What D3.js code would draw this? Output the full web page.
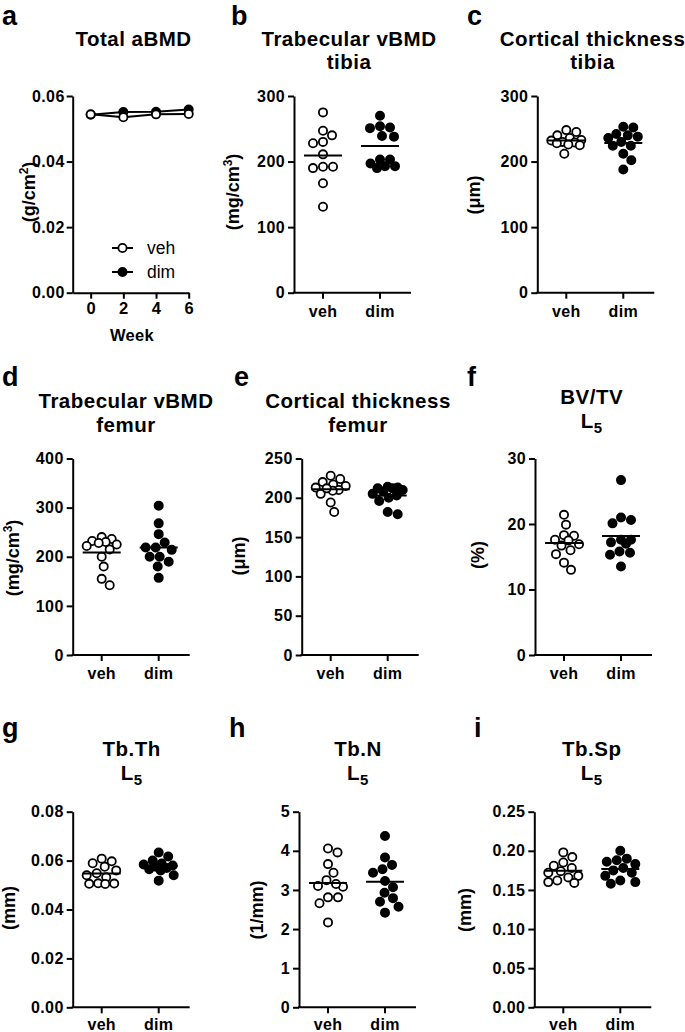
<!DOCTYPE html>
<html><head><meta charset="utf-8">
<script src="https://cdn.jsdelivr.net/npm/d3@7"></script>
<style>
html,body{margin:0;padding:0;background:#fff;}
svg{display:block;font-family:"Liberation Sans",Arial,sans-serif;}
</style></head>
<body>
<svg id="fig" width="685" height="1032"></svg>
<script>
// ---------- data ----------
const weeks = [0, 2, 4, 6];
const aVeh = [0.0544, 0.0535, 0.0544, 0.0545];
const aDim = [0.0543, 0.0551, 0.0552, 0.0559];
const groups = ["veh", "dim"];

const bVeh = [275, 247, 240, 230, 228, 211, 190, 192, 192, 167, 131];
const bDim = [270, 252, 254, 251, 238, 239, 203, 203, 197, 190, 193, 193];
const cVeh = [248, 245, 240, 236, 233, 232, 230, 229, 228, 226, 225, 212];
const cDim = [252, 253, 236, 238, 240, 242, 224, 224, 212, 202, 188, 230];
const dVeh = [240, 236, 232, 230, 228, 225, 222, 215, 200, 180, 155, 142];
const dDim = [304, 268, 246, 229, 219, 219, 214, 200, 200, 190, 180, 157];
const eVeh = [228, 224, 220, 217, 215, 213, 210, 209, 205, 194, 182, 212];
const eDim = [214, 213, 212, 212, 210, 208, 205, 203, 200, 196, 182, 179];
const fVeh = [21.4, 19.9, 18.3, 18.2, 17.5, 17.6, 16.9, 16.7, 16.0, 15.4, 14.1, 13.0];
const fDim = [26.7, 21.0, 20.1, 20.6, 17.6, 17.6, 17.2, 15.8, 15.6, 15.3, 13.5, 17.0];
const gVeh = [0.0608, 0.0597, 0.0589, 0.0575, 0.0560, 0.0548, 0.0540, 0.0532, 0.0507, 0.0506, 0.0505, 0.0504];
const gDim = [0.0633, 0.0617, 0.0600, 0.0588, 0.0584, 0.0580, 0.0575, 0.0570, 0.0565, 0.0560, 0.0540, 0.0518];
const hVeh = [4.06, 3.96, 3.66, 3.44, 3.25, 3.10, 3.08, 3.15, 2.81, 2.81, 2.66, 2.17];
const hDim = [4.38, 3.83, 3.44, 3.53, 3.64, 3.23, 3.07, 2.93, 2.79, 2.70, 2.57, 2.42];
const iVeh = [0.198, 0.192, 0.185, 0.181, 0.178, 0.174, 0.172, 0.168, 0.166, 0.162, 0.160, 0.159];
const iDim = [0.200, 0.190, 0.188, 0.186, 0.183, 0.178, 0.175, 0.172, 0.168, 0.162, 0.160, 0.158];

const ticksA = [0, 0.02, 0.04, 0.06];
const ticks300 = [0, 100, 200, 300];
const ticks400 = [0, 100, 200, 300, 400];
const ticks250 = [0, 50, 100, 150, 200, 250];
const ticks30 = [0, 10, 20, 30];
const ticks008 = [0, 0.02, 0.04, 0.06, 0.08];
const ticks5 = [0, 1, 2, 3, 4, 5];
const ticks025 = [0, 0.05, 0.10, 0.15, 0.20, 0.25];

// ---------- layout ----------
const svg = d3.select("#fig");
const FONT = "'Liberation Sans', Arial, sans-serif";
const R = 4.1, SW = 1.8, AXW = 2;
const TICKF = 16, CATF = 16, TITLEF = 20.5, YLABF = 18;
const rows = [{top: 96, bottom: 292.7, letterY: 25, t1: 45.5, xlab: 316.5},
              {top: 458.5, bottom: 655, letterY: 386, t1: 408, xlab: 679},
              {top: 811.7, bottom: 1007.3, letterY: 737, t1: 756, xlab: 1030}];

function styleAxis(g) {
  g.select(".domain").attr("stroke", "#000").attr("stroke-width", AXW);
  g.selectAll(".tick line").attr("stroke", "#000").attr("stroke-width", AXW);
  g.selectAll(".tick text").attr("fill", "#000").attr("font-family", FONT)
    .attr("font-weight", "bold").attr("font-size", TICKF).attr("letter-spacing", 0.4);
}

function addTitle(lines, cx, y, sub) {
  lines.forEach((ln, k) => {
    const t = svg.append("text").attr("x", cx).attr("y", y + k * 23.5)
      .attr("text-anchor", "middle").attr("font-weight", "bold")
      .attr("font-size", TITLEF).attr("letter-spacing", 0.5).attr("font-family", FONT);
    if (sub && k === lines.length - 1) {
      t.append("tspan").text(ln);
      t.append("tspan").text(sub).attr("font-size", 15).attr("dy", 5);
    } else t.text(ln);
  });
}

function addLetter(l, x, y) {
  svg.append("text").attr("x", x).attr("y", y).text(l)
    .attr("font-weight", "bold").attr("font-size", 27).attr("font-family", FONT);
}

function addYLabel(parts, x, y) {
  const t = svg.append("text").attr("transform", `translate(${x},${y}) rotate(-90)`)
    .attr("text-anchor", "middle").attr("dy", "0.35em")
    .attr("font-weight", "bold").attr("font-size", YLABF).attr("font-family", FONT);
  parts.forEach(p => {
    const s = t.append("tspan").text(p.t);
    if (p.sup) s.attr("font-size", 12).attr("dy", -7);
    if (p.after) s.attr("dy", 7);
  });
}

function swarm(values, y, maxOff) {
  const order = d3.range(values.length).sort((i, j) => values[j] - values[i]);
  const placed = [], off = new Array(values.length);
  const minD = 2 * R + SW;
  for (const i of order) {
    const yi = y(values[i]);
    let best = 0, bestScore = -Infinity;
    const cands = [0];
    for (let k = 0.5; k <= maxOff; k += 0.5) cands.push(k, -k);
    for (const c of cands) {
      let md = Infinity;
      for (const p of placed) md = Math.min(md, Math.hypot(c - p.x, yi - p.y));
      if (md >= minD) { best = c; bestScore = Infinity; break; }
      if (md > bestScore) { bestScore = md; best = c; }
    }
    placed.push({x: best, y: yi});
    off[i] = best;
  }
  return off;
}

function scatterPanel(p) {
  const row = rows[p.row];
  const y = d3.scaleLinear().domain([0, p.ticks[p.ticks.length - 1]]).range([row.bottom, row.top]);
  const x = d3.scalePoint().domain(groups).range([p.axisX + 29, p.axisX + 86]);
  svg.append("g").attr("transform", `translate(${p.axisX},0)`)
    .call(d3.axisLeft(y).tickValues(p.ticks).tickFormat(p.fmt).tickSize(6).tickSizeOuter(0).tickPadding(3))
    .call(styleAxis);
  const xr = d3.scaleLinear().domain([0, 1]).range([p.axisX, p.axisX + 117]);
  svg.append("line").attr("x1", xr(0) - 1).attr("x2", xr(1)).attr("y1", row.bottom).attr("y2", row.bottom)
    .attr("stroke", "#000").attr("stroke-width", AXW);
  groups.forEach(gname => {
    svg.append("line").attr("x1", x(gname)).attr("x2", x(gname))
      .attr("y1", row.bottom).attr("y2", row.bottom + 6).attr("stroke", "#000").attr("stroke-width", AXW);
    svg.append("text").attr("x", x(gname)).attr("y", row.xlab).attr("text-anchor", "middle")
      .attr("font-weight", "bold").attr("font-size", CATF).attr("letter-spacing", 0.3)
      .attr("font-family", FONT).text(gname);
  });
  [[p.veh, "veh", "#fff"], [p.dim, "dim", "#000"]].forEach(([vals, gname, fill]) => {
    const off = swarm(vals, y, 15);
    const m = d3.mean(vals);
    svg.append("g").selectAll("circle").data(vals).join("circle")
      .attr("cx", (d, i) => x(gname) + off[i]).attr("cy", d => y(d)).attr("r", R)
      .attr("fill", fill).attr("stroke", "#000").attr("stroke-width", SW);
    svg.append("line").attr("x1", x(gname) - 19).attr("x2", x(gname) + 19)
      .attr("y1", y(m)).attr("y2", y(m)).attr("stroke", "#000").attr("stroke-width", 2);
  });
  addTitle(p.title, p.titleX, row.t1 + (p.titleDy || 0), p.sub);
  addLetter(p.letter, p.letterX, row.letterY);
  addYLabel(p.ylabel, p.ylabelX, p.ylabelY);
}

// ---------- panel a (line chart) ----------
(function () {
  const row = rows[0];
  const x = d3.scaleLinear().domain([-1.1, 6]).range([72.7, 188.7]);
  const y = d3.scaleLinear().domain([0, 0.06]).range([row.bottom, row.top]);
  svg.append("g").attr("transform", `translate(72.7,0)`)
    .call(d3.axisLeft(y).tickValues(ticksA).tickFormat(d3.format(".2f")).tickSize(6).tickSizeOuter(0).tickPadding(2))
    .call(styleAxis);
  svg.append("g").attr("transform", `translate(0,${row.bottom})`)
    .call(d3.axisBottom(x).tickValues(weeks).tickFormat(d3.format("d")).tickSize(6).tickSizeOuter(0).tickPadding(4))
    .call(styleAxis)
    .call(g => g.selectAll(".tick text").attr("font-size", 16.5));
  svg.append("text").attr("x", 132).attr("y", 341).attr("text-anchor", "middle")
    .attr("font-weight", "bold").attr("font-size", 16.5).attr("letter-spacing", 0.3)
    .attr("font-family", FONT).text("Week");
  const line = d3.line().x((d, i) => x(weeks[i])).y(d => y(d));
  [[aDim, "#000"], [aVeh, "#fff"]].forEach(([vals, fill]) => {
    svg.append("path").attr("d", line(vals)).attr("fill", "none").attr("stroke", "#000").attr("stroke-width", 2);
    svg.append("g").selectAll("circle").data(vals).join("circle")
      .attr("cx", (d, i) => x(weeks[i])).attr("cy", d => y(d)).attr("r", R)
      .attr("fill", fill).attr("stroke", "#000").attr("stroke-width", SW);
  });
  [["veh", "#fff", 248], ["dim", "#000", 272]].forEach(([lab, fill, ly]) => {
    svg.append("line").attr("x1", 112).attr("x2", 133).attr("y1", ly).attr("y2", ly)
      .attr("stroke", "#000").attr("stroke-width", 2);
    svg.append("circle").attr("cx", 122.5).attr("cy", ly).attr("r", R)
      .attr("fill", fill).attr("stroke", "#000").attr("stroke-width", SW);
    svg.append("text").attr("x", 147).attr("y", ly + 6).attr("font-size", 17.5)
      .attr("font-family", FONT).text(lab);
  });
  addTitle(["Total aBMD"], 133.5, row.t1);
  addLetter("a", 2, row.letterY);
  addYLabel([{t: "(g/cm"}, {t: "2", sup: true}, {t: ")", after: true}], 29, 192);
})();

const fmt0 = d3.format("d");
const panels = [
  {letter: "b", row: 0, axisX: 294, ticks: ticks300, fmt: fmt0, veh: bVeh, dim: bDim,
   title: ["Trabecular vBMD", "tibia"], titleX: 349, letterX: 231,
   ylabel: [{t: "(mg/cm"}, {t: "3", sup: true}, {t: ")", after: true}], ylabelX: 233, ylabelY: 192},
  {letter: "c", row: 0, axisX: 537.3, ticks: ticks300, fmt: fmt0, veh: cVeh, dim: cDim,
   title: ["Cortical thickness", "tibia"], titleX: 592.5, letterX: 467,
   ylabel: [{t: "(μm)"}], ylabelX: 474, ylabelY: 195},
  {letter: "d", row: 1, axisX: 72.7, ticks: ticks400, fmt: fmt0, veh: dVeh, dim: dDim,
   title: ["Trabecular vBMD", "femur"], titleX: 126, letterX: 2,
   ylabel: [{t: "(mg/cm"}, {t: "3", sup: true}, {t: ")", after: true}], ylabelX: 13, ylabelY: 558},
  {letter: "e", row: 1, axisX: 301.7, ticks: ticks250, fmt: fmt0, veh: eVeh, dim: eDim,
   title: ["Cortical thickness", "femur"], titleX: 358, letterX: 234,
   ylabel: [{t: "(μm)"}], ylabelX: 239, ylabelY: 556},
  {letter: "f", row: 1, axisX: 535, ticks: ticks30, fmt: fmt0, veh: fVeh, dim: fDim,
   title: ["BV/TV", "L"], sub: "5", titleDy: -4, titleX: 591.7, letterX: 467,
   ylabel: [{t: "(%)"}], ylabelX: 478, ylabelY: 555},
  {letter: "g", row: 2, axisX: 72.7, ticks: ticks008, fmt: d3.format(".2f"), veh: gVeh, dim: gDim,
   title: ["Tb.Th", "L"], sub: "5", titleX: 131.7, letterX: 2,
   ylabel: [{t: "(mm)"}], ylabelX: 9, ylabelY: 908},
  {letter: "h", row: 2, axisX: 299, ticks: ticks5, fmt: fmt0, veh: hVeh, dim: hDim,
   title: ["Tb.N", "L"], sub: "5", titleX: 358, letterX: 229,
   ylabel: [{t: "(1/mm)"}], ylabelX: 256.7, ylabelY: 910},
  {letter: "i", row: 2, axisX: 534.3, ticks: ticks025, fmt: d3.format(".2f"), veh: iVeh, dim: iDim,
   title: ["Tb.Sp", "L"], sub: "5", titleX: 591.7, letterX: 474,
   ylabel: [{t: "(mm)"}], ylabelX: 465, ylabelY: 910}
];
panels.forEach(scatterPanel);
</script>
</body></html>
